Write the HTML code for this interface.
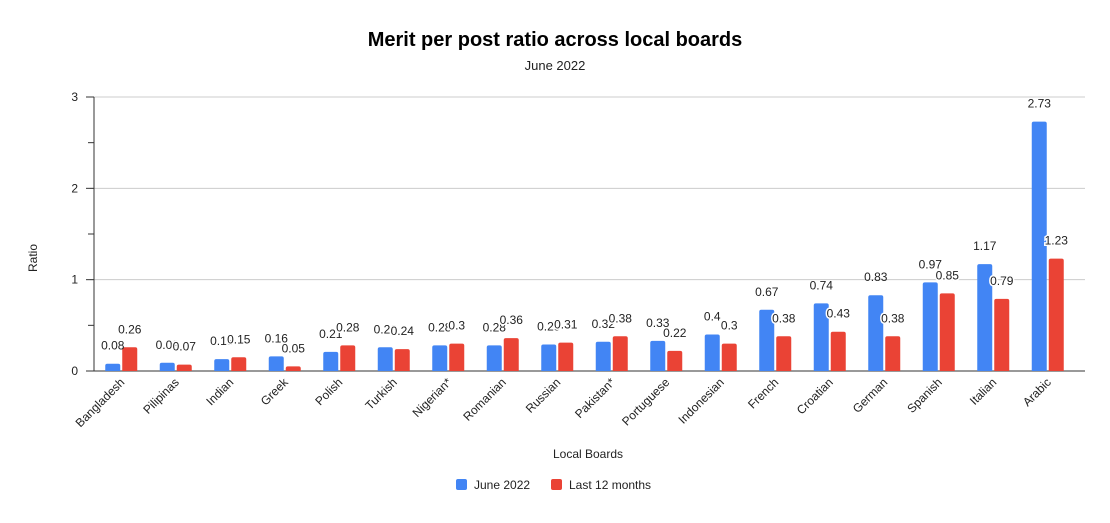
<!DOCTYPE html>
<html><head><meta charset="utf-8"><style>
body{margin:0;background:#fff;font-family:"Liberation Sans",Arial,sans-serif}
svg text{font-family:"Liberation Sans",Arial,sans-serif}
</style></head><body>
<svg id="chart" width="1110" height="518" xmlns="http://www.w3.org/2000/svg">
<rect width="1110" height="518" fill="#fff"/>
<text x="555" y="46" text-anchor="middle" font-size="20" font-weight="bold" fill="#000">Merit per post ratio across local boards</text>
<text x="555" y="70" text-anchor="middle" font-size="13" fill="#222">June 2022</text>
<text transform="translate(37,258) rotate(-90)" text-anchor="middle" font-size="12" fill="#222">Ratio</text>
<text x="588" y="458" text-anchor="middle" font-size="12" fill="#222">Local Boards</text>
<g id="grid"></g><g id="bars"></g><g id="labels"></g><g id="xlabels"></g>
<g>
<rect x="456" y="479" width="11" height="11" rx="2" fill="#4285f4"/>
<text x="474" y="489" font-size="12" fill="#222">June 2022</text>
<rect x="551" y="479" width="11" height="11" rx="2" fill="#ea4335"/>
<text x="569" y="489" font-size="12" fill="#222">Last 12 months</text>
</g>
</svg>
<script>
const categories=["Bangladesh","Pilipinas","Indian","Greek","Polish","Turkish","Nigerian*","Romanian","Russian","Pakistan*","Portuguese","Indonesian","French","Croatian","German","Spanish","Italian","Arabic"];
const juneValues=[0.08,0.09,0.13,0.16,0.21,0.26,0.28,0.28,0.29,0.32,0.33,0.4,0.67,0.74,0.83,0.97,1.17,2.73];
const yearValues=[0.26,0.07,0.15,0.05,0.28,0.24,0.3,0.36,0.31,0.38,0.22,0.3,0.38,0.43,0.38,0.85,0.79,1.23];
const yTicks=[0,1,2,3];
const NS="http://www.w3.org/2000/svg";
const X0=94,X1=1075,Y0=371,Y3=97,YMAX=3;
const step=(X1-X0)/categories.length;
const xc=i=>X0+step*(i+0.5);
const y=v=>Y0-(Y0-Y3)*v/YMAX;
function mk(tag,attrs,parent){const e=document.createElementNS(NS,tag);for(const k in attrs)e.setAttribute(k,attrs[k]);parent.appendChild(e);return e;}
const grid=document.getElementById('grid'),bars=document.getElementById('bars'),labels=document.getElementById('labels'),xl=document.getElementById('xlabels');
yTicks.forEach(t=>{
  if(t>0){const l=mk('line',{x1:90,x2:1085,y1:y(t),y2:y(t),stroke:'#ccc','stroke-width':1},grid);
  
  }
  const tx=mk('text',{x:78,y:y(t)+4,'text-anchor':'end','font-size':12,fill:'#222'},grid);tx.textContent=t;
  
  
  const tk=mk('line',{x1:86,x2:94,y1:y(t),y2:y(t),stroke:'#333'},grid);
  
  
  if(t<YMAX){const mt=mk('line',{x1:88,x2:94,y1:y(t+0.5),y2:y(t+0.5),stroke:'#333'},grid);
  
  }
});
const ax=mk('line',{x1:94,x2:94,y1:97,y2:371,stroke:'#333'},grid);


const bx=mk('line',{x1:90,x2:1085,y1:371,y2:371,stroke:'#333'},grid);


const BW=15;
categories.forEach((c,i)=>{
  [[juneValues[i],'#4285f4',-BW-1,'june'],[yearValues[i],'#ea4335',1,'12m']].forEach(([v,col,off,s])=>{
    const top=y(v),h=Y0-top;
    const r=mk('path',{d:`M${xc(i)+off},${Y0}V${top+2}q0,-2 2,-2h${BW-4}q2,0 2,2V${Y0}Z`,fill:col},bars);
    
    
    const t=mk('text',{x:xc(i)+off+BW/2,y:top-14,'text-anchor':'middle','font-size':12,fill:'#222',stroke:'#fff','stroke-width':s=='12m'?3:0,'paint-order':'stroke'},labels);
    t.textContent=v;
    
    
  });
  const t=mk('text',{transform:`translate(${xc(i)+4},${383}) rotate(-45)`,'text-anchor':'end','font-size':12,fill:'#222'},xl);
  t.textContent=c;
  
  
});
</script>
</body></html>
